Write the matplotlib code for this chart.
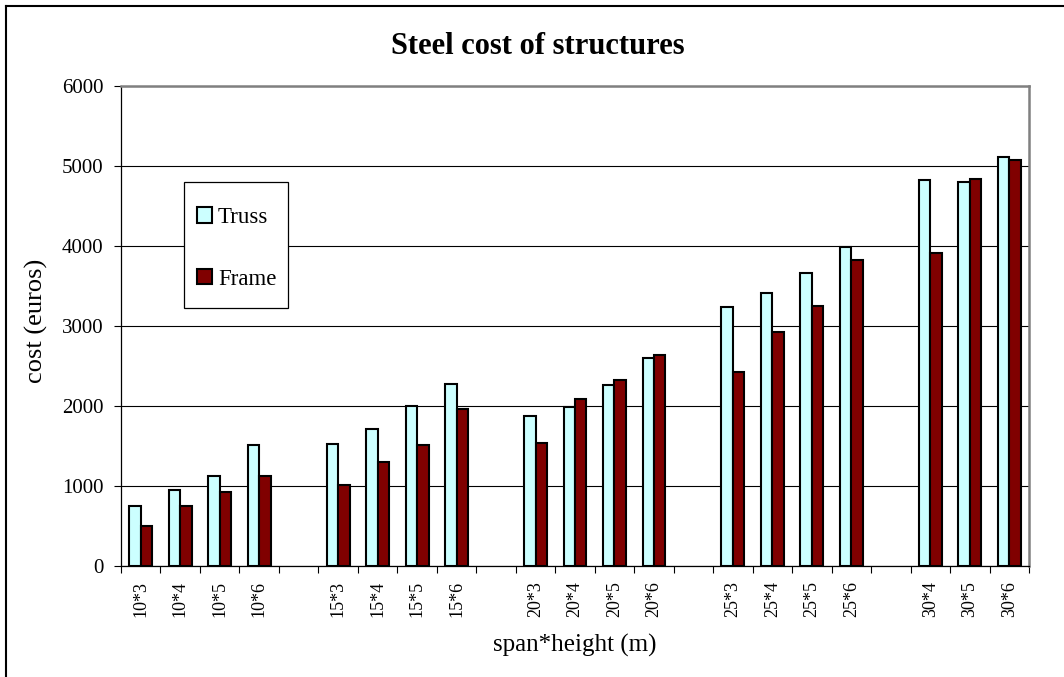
import numpy as np
import matplotlib.pyplot as plt
from matplotlib.patches import Patch, Rectangle
from matplotlib.lines import Line2D

plt.rcParams['font.family'] = ['Liberation Serif', 'DejaVu Serif']

# span*height combinations, blank slots separate the span groups
categories = ['10*3', '10*4', '10*5', '10*6', '',
              '15*3', '15*4', '15*5', '15*6', '',
              '20*3', '20*4', '20*5', '20*6', '',
              '25*3', '25*4', '25*5', '25*6', '',
              '30*4', '30*5', '30*6']

truss = [755, 945, 1130, 1515, np.nan,
         1525, 1715, 2000, 2280, np.nan,
         1880, 1990, 2265, 2595, np.nan,
         3240, 3410, 3665, 3990, np.nan,
         4830, 4800, 5115]

frame = [500, 755, 930, 1120, np.nan,
         1010, 1305, 1515, 1965, np.nan,
         1540, 2090, 2325, 2635, np.nan,
         2430, 2920, 3255, 3825, np.nan,
         3915, 4835, 5080]

yticks = [0, 1000, 2000, 3000, 4000, 5000, 6000]

W, H = 1064, 677
fig = plt.figure(figsize=(W / 100, H / 100), dpi=100)
ax = fig.add_axes([121 / W, 1 - 566 / H, (1029 - 121) / W, (566 - 86) / H])

x = np.arange(len(categories))
w = 0.29
ax.bar(x - w / 2, truss, w, color='#CCFFFF', edgecolor='black', linewidth=1.5, zorder=3)
ax.bar(x + w / 2, frame, w, color='#800000', edgecolor='black', linewidth=1.5, zorder=3)

ax.set_xlim(-0.5, len(categories) - 0.5)
ax.set_ylim(0, 6000)
ax.set_yticks(yticks)
ax.set_yticklabels([str(v) for v in yticks], fontsize=15)
ax.yaxis.grid(True, color='black', linewidth=0.8)
ax.set_axisbelow(True)
ax.tick_params(axis='y', direction='out', length=5, width=0.8, pad=7.5)

# ticks sit on the slot boundaries, labels on the slot centres
ax.set_xticks(np.arange(-0.5, len(categories)))
ax.set_xticklabels([])
ax.tick_params(axis='x', which='major', direction='out', length=5, width=0.8)
ax.set_xticks(x, minor=True)
ax.set_xticklabels(categories, minor=True, rotation=90, fontsize=13, va='top')
ax.tick_params(axis='x', which='minor', length=0, pad=11)

for side in ['top', 'right']:
    ax.spines[side].set_color('#808080')
    ax.spines[side].set_linewidth(1.8)
for side in ['left', 'bottom']:
    ax.spines[side].set_color('black')
    ax.spines[side].set_linewidth(0.9)

# legend box drawn separately so the padding can differ per side
box = Rectangle((184 / W, 1 - 308 / H), 104 / W, 126 / H, transform=fig.transFigure,
                facecolor='white', edgecolor='black', linewidth=0.9,
                zorder=4, clip_on=False)
ax.add_patch(box)

handles = [Patch(facecolor='#CCFFFF', edgecolor='black', linewidth=1.5),
           Patch(facecolor='#800000', edgecolor='black', linewidth=1.5)]
leg = ax.legend(handles, ['Truss', 'Frame'], loc='upper left',
                bbox_to_anchor=(197 / W, 1 - 207 / H),
                bbox_transform=fig.transFigure,
                fontsize=16.5, frameon=False, borderpad=0,
                handlelength=0.65, handleheight=0.65, handletextpad=0.26,
                labelspacing=1.78, borderaxespad=0)
leg.set_zorder(5)

fig.text(538 / W, 1 - 47 / H, 'Steel cost of structures', ha='center', va='center',
         fontsize=22, fontweight='bold')
fig.text(36 / W, 1 - 321 / H, 'cost (euros)', ha='center', va='center',
         rotation=90, fontsize=19)
fig.text(575 / W, 1 - 645 / H, 'span*height (m)', ha='center', va='center',
         fontsize=18)

# outer chart border (only the left and top edges fall inside the image)
fig.add_artist(Line2D([6 / W, 6 / W], [0, 1 - 6 / H], color='black', linewidth=1.5,
                      transform=fig.transFigure))
fig.add_artist(Line2D([6 / W, 1], [1 - 6 / H, 1 - 6 / H], color='black', linewidth=1.5,
                      transform=fig.transFigure))

fig.savefig('out.png', dpi=100)
